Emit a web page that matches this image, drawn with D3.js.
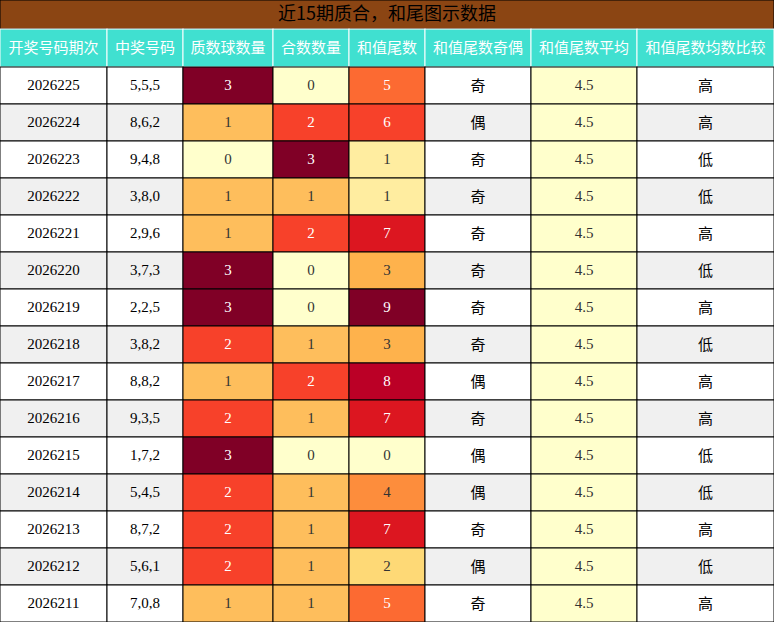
<!DOCTYPE html><html><head><meta charset="utf-8"><script src="https://cdn.jsdelivr.net/npm/d3@7"></script>
<style>body{margin:0;background:#fff}</style></head><body><svg id="c" width="774" height="622"></svg>
<script>
const title="近15期质合，和尾图示数据";
const headers=["开奖号码期次","中奖号码","质数球数量","合数数量","和值尾数","和值尾数奇偶","和值尾数平均","和值尾数均数比较"];
const periods=["2026225","2026224","2026223","2026222","2026221","2026220","2026219","2026218","2026217","2026216","2026215","2026214","2026213","2026212","2026211"];
const numbers=["5,5,5","8,6,2","9,4,8","3,8,0","2,9,6","3,7,3","2,2,5","3,8,2","8,8,2","9,3,5","1,7,2","5,4,5","8,7,2","5,6,1","7,0,8"];
const primes=[3,1,0,1,1,3,3,2,1,2,3,2,2,2,1];
const composites=[0,2,3,1,2,0,0,1,2,1,0,1,1,1,1];
const tails=[5,6,1,1,7,3,9,3,8,7,0,4,7,2,5];
const parity=["奇","偶","奇","奇","奇","奇","奇","奇","偶","奇","偶","偶","奇","偶","奇"];
const avg=[4.5,4.5,4.5,4.5,4.5,4.5,4.5,4.5,4.5,4.5,4.5,4.5,4.5,4.5,4.5];
const cmp=["高","高","低","低","高","低","高","低","高","高","低","低","高","低","高"];
const colEdges=[0,107,183,273,349,425,531,637,774];
const svg=d3.select("#c");
const W=774,titleH=29,headH=38;
const y=d3.scaleBand().domain(d3.range(15)).range([67,622]);
const c4=d3.scaleOrdinal().domain([0,1,2,3]).range(["#FFFFCC","#FEBE5C","#F7412A","#800026"]);
const c10=d3.scaleOrdinal().domain(d3.range(10)).range(["#FFFFCC","#FFEDA0","#FED976","#FEB24C","#FD8D3C","#FC6A32","#F7412A","#DC1620","#BB0026","#800026"]);
const serif="'Liberation Serif','DejaVu Serif',serif",cjk="'Noto Sans CJK SC',sans-serif";
svg.append("rect").attr("x",0).attr("y",0).attr("width",W).attr("height",titleH).attr("fill","#8B4513").attr("stroke","#000");
svg.append("text").attr("x",W/2).attr("y",titleH/2+1).attr("text-anchor","middle").attr("dominant-baseline","middle").attr("font-family",cjk).attr("font-size",18).attr("fill","#000").text(title);
headers.forEach((h,i)=>{
 svg.append("rect").attr("x",colEdges[i]).attr("y",titleH).attr("width",colEdges[i+1]-colEdges[i]).attr("height",headH).attr("fill","#40E0D0").attr("stroke","#fff");
 svg.append("text").attr("x",(colEdges[i]+colEdges[i+1])/2).attr("y",titleH+headH/2+1).attr("text-anchor","middle").attr("dominant-baseline","middle").attr("font-family",cjk).attr("font-size",15).attr("fill","#fff").text(h);
});
periods.forEach((p,r)=>{
 const bg=r%2?"#F0F0F0":"#FFFFFF";
 const cells=[
  [p,bg,"#000",serif],[numbers[r],bg,"#000",serif],
  [primes[r],c4(primes[r]),primes[r]>=2?"#fff":"#333",serif],
  [composites[r],c4(composites[r]),composites[r]>=2?"#fff":"#333",serif],
  [tails[r],c10(tails[r]),tails[r]>=5?"#fff":"#333",serif],
  [parity[r],bg,"#000",cjk],[avg[r].toFixed(1),"#FFFFCC","#333",serif],[cmp[r],bg,"#000",cjk]];
 cells.forEach((c,i)=>{
  svg.append("rect").attr("x",colEdges[i]).attr("y",y(r)).attr("width",colEdges[i+1]-colEdges[i]).attr("height",y.bandwidth()).attr("fill",c[1]).attr("stroke","#000").attr("stroke-width",1);
  svg.append("text").attr("x",(colEdges[i]+colEdges[i+1])/2).attr("y",y(r)+y.bandwidth()/2+1).attr("text-anchor","middle").attr("dominant-baseline","middle").attr("font-family",c[3]).attr("font-size",15).attr("fill",c[2]).text(c[0]);
 });
});
</script></body></html>
